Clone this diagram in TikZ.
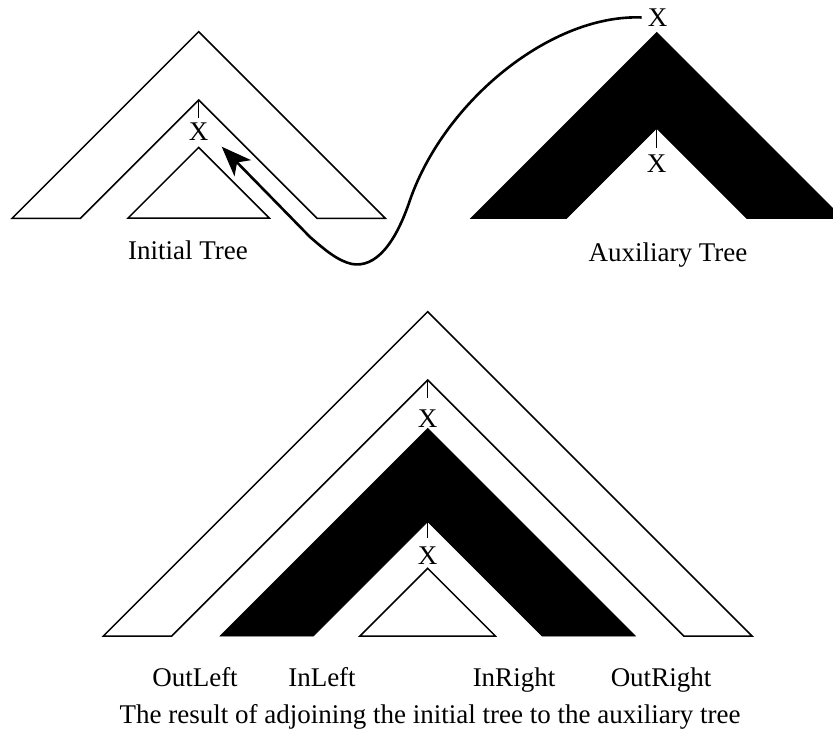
\documentclass[tikz,border=0pt]{standalone}
\usepackage{fontspec}
\setmainfont{Liberation Serif}
\usetikzlibrary{arrows.meta}
\begin{document}
\begin{tikzpicture}[x=1pt,y=-1pt,line join=miter,
  outline/.style={draw=black,line width=1.5pt,fill=white},
  blackband/.style={fill=black,draw=black,line width=0.6pt},
  tickline/.style={draw=black,line width=1.5pt},
  xlab/.style={inner sep=0pt,font=\fontsize{27}{32}\selectfont},
  lab/.style={inner sep=0pt,anchor=base,font=\fontsize{27}{32}\selectfont},
  conn/.style={line width=2.6pt,-{Stealth[length=30pt,width=23pt,inset=8pt]}}]
\useasboundingbox (0,0) rectangle (833,734);

% ---------- Initial tree (top left) ----------
\path[outline] (12.1,218.3) -- (198.7,31.7) -- (385.3,218.3) -- (317,218.3)
  -- (198.7,100) -- (80.4,218.3) -- cycle;
\path[outline] (128.1,218) -- (198.7,147.4) -- (269.3,218) -- cycle;
\draw[tickline] (198.7,100) -- (198.7,118);
\node[xlab] (xinit) at (198.7,131.5) {X};
\node[lab] (initlab) at (188,259.3) {Initial Tree};

% ---------- Auxiliary tree (top right) ----------
\path[blackband] (470.5,218.5) -- (656.7,32.3) -- (842.9,218.5) -- (746.9,218.5)
  -- (656.7,128.3) -- (566.5,218.5) -- cycle;
\draw[tickline] (656.7,128.3) -- (656.7,148.3);
\node[xlab] (xaux) at (656.7,164) {X};
\node[xlab] (xtop) at (657.5,17.7) {X};
\node[lab] (auxlab) at (668,261.7) {Auxiliary Tree};

% ---------- adjoining connector ----------
\coordinate (tip) at (221.7,146.7);
\draw[conn,shorten <=6pt] (xtop.west) .. controls (551.7,14) and (445,100) .. (410,200)
  .. controls (395,245) and (375,268) .. (352,264)
  .. controls (338,261) and (325,250) .. (310,237) -- (tip);

% ---------- Result tree (bottom) ----------
\path[outline] (103.4,636) -- (427.7,311.7) -- (752,636) -- (683.7,636)
  -- (427.7,380) -- (171.7,636) -- cycle;
\path[blackband] (220,636) -- (427.7,428.3) -- (635.4,636) -- (542,636)
  -- (427.7,521.7) -- (313.4,636) -- cycle;
\path[outline] (360,636) -- (427.7,568.3) -- (495.4,636) -- cycle;
\draw[tickline] (427.7,380) -- (427.7,398.3);
\node[xlab] (xres1) at (427.7,418.3) {X};
\draw[tickline] (427.7,521.7) -- (427.7,538.3);
\node[xlab] (xres2) at (427.7,556) {X};

\node[lab] (outleft) at (195,686) {OutLeft};
\node[lab] (inleft) at (322,686) {InLeft};
\node[lab] (inright) at (514,686) {InRight};
\node[lab] (outright) at (661,686) {OutRight};
\node[lab] (caption) at (430,723) {The result of adjoining the initial tree to the auxiliary tree};
\end{tikzpicture}
\end{document}
